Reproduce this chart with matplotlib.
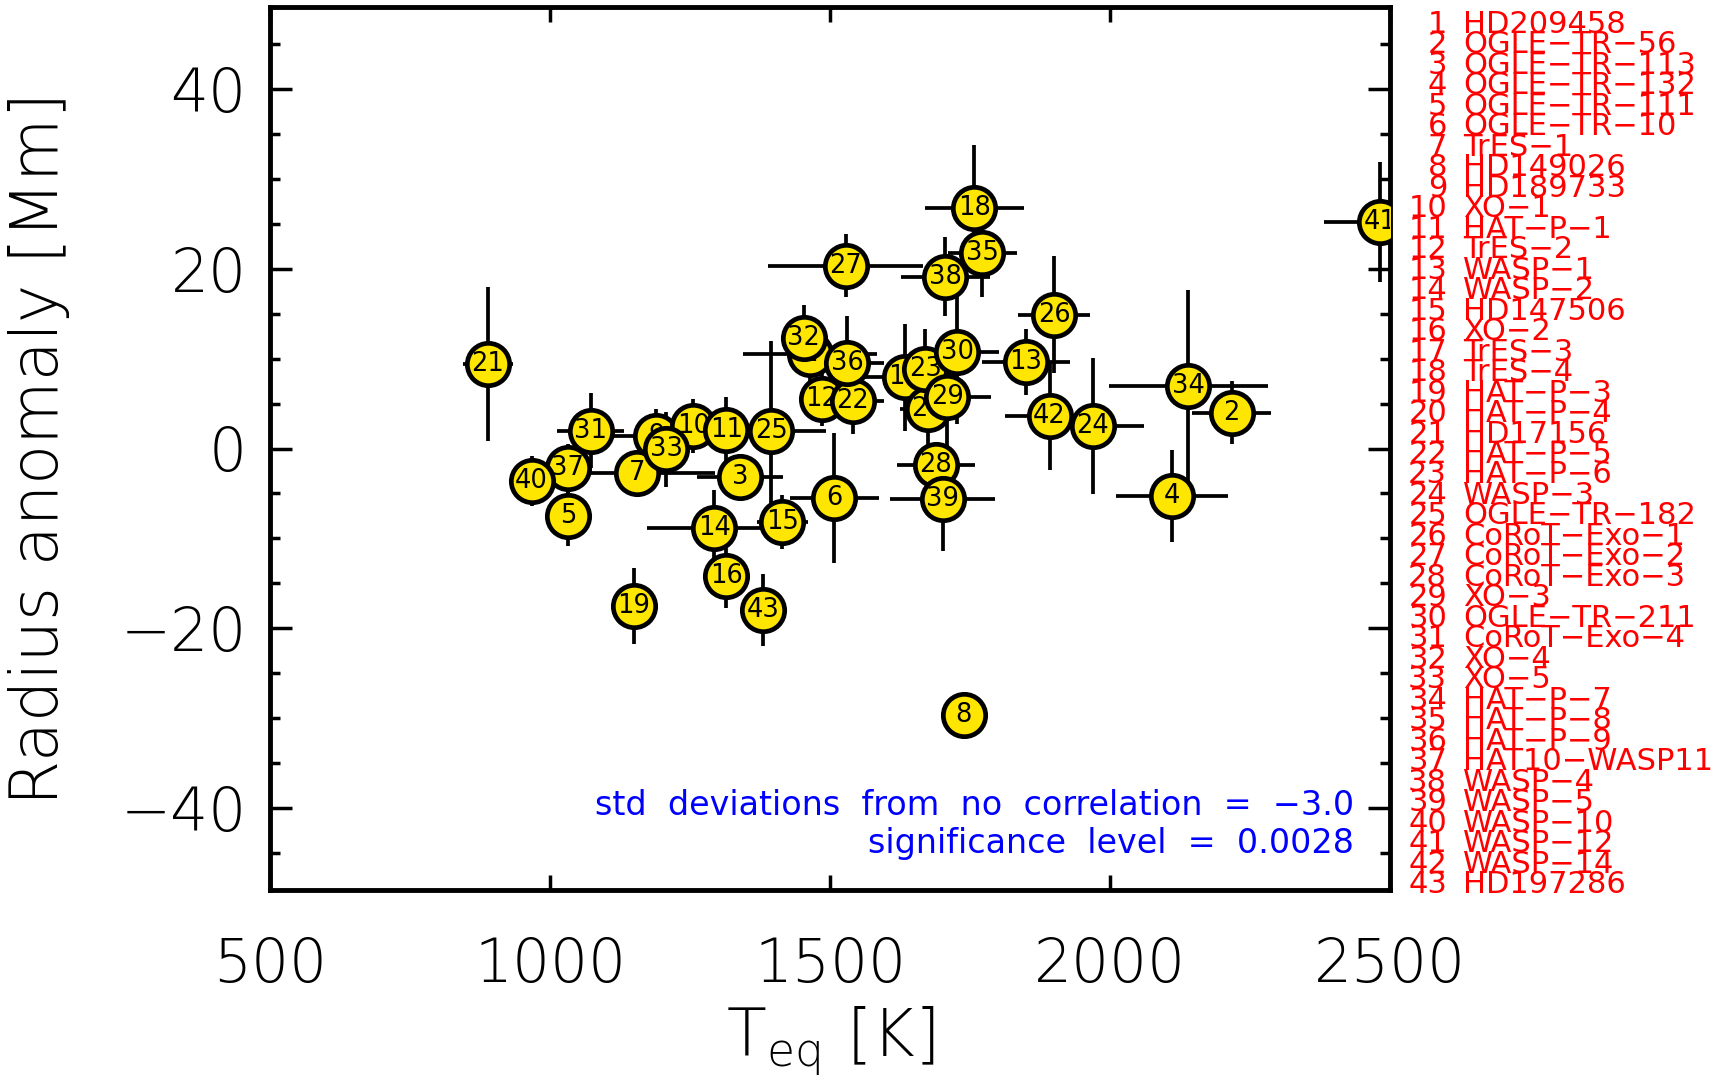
import matplotlib
matplotlib.use("Agg")
from matplotlib import pyplot as plt
from matplotlib.ticker import MultipleLocator
import numpy as np

# planet names, numbered 1..43 in the right-hand list
names = ["HD209458", "OGLE-TR-56", "OGLE-TR-113", "OGLE-TR-132", "OGLE-TR-111",
         "OGLE-TR-10", "TrES-1", "HD149026", "HD189733", "XO-1", "HAT-P-1",
         "TrES-2", "WASP-1", "WASP-2", "HD147506", "XO-2", "TrES-3", "TrES-4",
         "HAT-P-3", "HAT-P-4", "HD17156", "HAT-P-5", "HAT-P-6", "WASP-3",
         "OGLE-TR-182", "CoRoT-Exo-1", "CoRoT-Exo-2", "CoRoT-Exo-3", "XO-3",
         "OGLE-TR-211", "CoRoT-Exo-4", "XO-4", "XO-5", "HAT-P-7", "HAT-P-8",
         "HAT-P-9", "HAT10-WASP11", "WASP-4", "WASP-5", "WASP-10", "WASP-12",
         "WASP-14", "HD197286"]

# equilibrium temperature [K] and its error
teq = [1464, 2217, 1339, 2111, 1033, 1508, 1155, 1739, 1190, 1256, 1315,
       1485, 1850, 1293, 1415, 1315, 1634, 1758, 1150, 1675, 889, 1541,
       1670, 1969, 1395, 1900, 1528, 1689, 1709, 1727, 1073, 1453, 1208,
       2140, 1772, 1531, 1032, 1706, 1701, 967, 2483, 1892, 1380]
teq_err = [120, 70, 77, 100, 20, 80, 140, 20, 90, 100, 30, 30, 78, 120, 45,
           20, 75, 88, 20, 50, 45, 55, 50, 91, 97, 65, 138, 70, 78, 74, 60,
           40, 40, 142, 62, 65, 30, 80, 93, 20, 100, 80, 22]

# radius anomaly [Mm] and its error
anom = [10.5, 4.0, -3.2, -5.3, -7.5, -5.5, -2.7, -29.6, 1.4, 2.5, 2.1, 5.5,
        9.6, -8.8, -8.2, -14.2, 7.9, 26.8, -17.5, 4.4, 9.4, 5.3, 8.8, 2.5,
        2.0, 14.9, 20.3, -1.8, 5.7, 10.7, 2.0, 12.3, -0.1, 7.0, 21.7, 9.5,
        -2.2, 19.1, -5.6, -3.6, 25.2, 3.6, -18.0]
anom_err = [3.0, 3.5, 2.6, 5.1, 3.3, 7.2, 2.5, 2.0, 3.0, 3.0, 3.6, 3.0, 3.7,
            4.2, 3.0, 3.5, 6.0, 7.0, 4.2, 5.0, 8.6, 3.7, 4.5, 7.6, 10.0, 6.5,
            3.5, 2.5, 6.0, 8.0, 4.2, 3.7, 4.2, 10.6, 4.8, 5.2, 2.7, 4.4, 5.8,
            2.8, 6.7, 6.0, 4.0]

stat_lines = ["std  deviations  from  no  correlation  =  \u22123.0",
              "significance  level  =  0.0028"]

axis_font = ["DejaVu Sans"]

fig = plt.figure(figsize=(17.12, 10.90), dpi=100)
ax = fig.add_axes([270 / 1712, 1 - 890 / 1090, 1120 / 1712, 883 / 1090])

ax.errorbar(teq, anom, xerr=teq_err, yerr=anom_err, fmt="none",
            ecolor="black", elinewidth=2.7, capsize=0, zorder=2)
for i in range(len(names)):
    ax.plot(teq[i], anom[i], "o", ms=30.5, mfc="#ffe600", mec="black",
            mew=3.4, zorder=3 + 2 * i)
    ax.text(teq[i], anom[i], str(i + 1), ha="center", va="center",
            fontsize=18.5, color="black", zorder=4 + 2 * i, clip_on=True)

ax.set_xlim(500, 2500)
ax.set_ylim(-49.1, 49.1)
ax.xaxis.set_major_locator(MultipleLocator(500))
ax.yaxis.set_major_locator(MultipleLocator(20))
ax.yaxis.set_minor_locator(MultipleLocator(5))

for s in ax.spines.values():
    s.set_linewidth(3.5)
ax.tick_params(axis="both", which="both", direction="in", top=True,
               right=True, width=2.5, colors="black")
ax.tick_params(axis="x", which="major", length=11, pad=33)
ax.tick_params(axis="y", which="major", length=16, pad=17)
ax.tick_params(axis="y", which="minor", length=7.5)
for lab in ax.get_xticklabels() + ax.get_yticklabels():
    lab.set_fontfamily(axis_font)
    lab.set_fontweight("light")
    lab.set_fontsize(43)

ax.text(-0.205, 0.5, "Radius anomaly [Mm]", transform=ax.transAxes,
        rotation=90, ha="center", va="center", fontsize=47,
        family=axis_font, weight="light")
ax.text(0.5, -0.17, r"T$_{\mathregular{eq}}$ [K]", transform=ax.transAxes,
        ha="center", va="center", fontsize=47, family=axis_font,
        weight="light")

ax.text(0.968, 0.0849, stat_lines[0], transform=ax.transAxes, ha="right",
        va="baseline", fontsize=24, color="blue")
ax.text(0.968, 0.0419, stat_lines[1], transform=ax.transAxes, ha="right",
        va="baseline", fontsize=24, color="blue")

# numbered planet list to the right of the frame
step = 0.974 / 42
for i, nm in enumerate(names):
    yy = 0.9706 - i * step
    ax.text(1.051, yy, str(i + 1), transform=ax.transAxes, ha="right",
            va="baseline", fontsize=22, color="red", clip_on=False)
    ax.text(1.0655, yy, nm.replace("-", "\u2212"), transform=ax.transAxes,
            ha="left", va="baseline", fontsize=22, color="red",
            clip_on=False)

fig.savefig("out.png", dpi=100)
